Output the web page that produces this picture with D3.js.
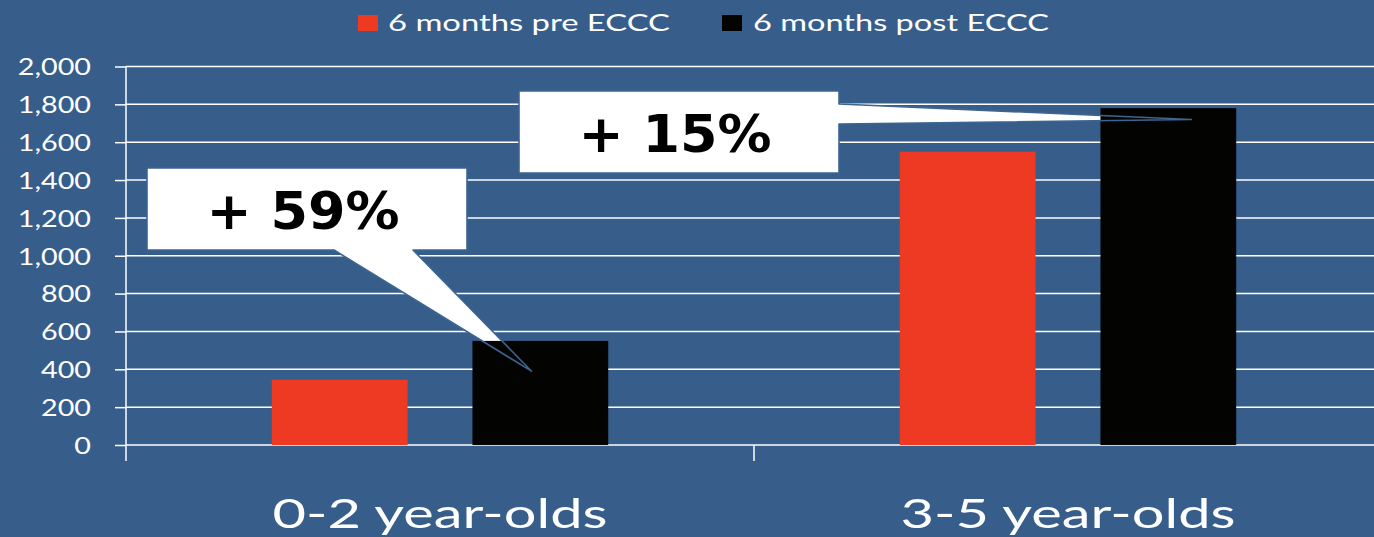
<!DOCTYPE html>
<html>
<head>
<meta charset="utf-8">
<script src="https://cdn.jsdelivr.net/npm/d3@7"></script>
<style>
  html, body { margin: 0; padding: 0; background: #375e8b; overflow: hidden; }
  svg { display: block; }
</style>
</head>
<body>
<svg id="chart" width="1374" height="537"></svg>
<script>
// ---- data ----
const categories = ["0-2 year-olds", "3-5 year-olds"];
const seriesNames = ["6 months pre ECCC", "6 months post ECCC"];
const preValues = [345, 1550];
const postValues = [550, 1780];
const yTickValues = [0, 200, 400, 600, 800, 1000, 1200, 1400, 1600, 1800, 2000];
const calloutLabels = ["+ 59%", "+ 15%"];
const calloutTipValues = [390, 1720];

// ---- layout / style ----
const W = 1374, H = 537;
const BG = "#375e8b";
const colors = ["#ee3a22", "#030402"];
const plot = { left: 126, right: 1382, top: 66.5, bottom: 445 };
const STRETCH = 1.25;

const svg = d3.select("#chart");
svg.append("rect").attr("width", W).attr("height", H).attr("fill", BG);

const x0 = d3.scaleBand().domain(categories).range([plot.left, plot.right]).padding(0);
const x1 = d3.scaleBand().domain(seriesNames).range([0, x0.bandwidth()])
  .paddingInner(0.3234).paddingOuter(0.7264);
const y = d3.scaleLinear().domain([0, 2000]).range([plot.bottom, plot.top]);

// gridlines + y axis
const yAxis = d3.axisLeft(y).tickValues(yTickValues).tickFormat(d3.format(",")).tickSize(11).tickPadding(0);
const gy = svg.append("g").attr("transform", `translate(${plot.left},0)`).call(yAxis);
gy.select(".domain").remove();
gy.selectAll(".tick line").attr("stroke", "#ffffff").attr("stroke-width", 1.5);
gy.selectAll(".tick text")
  .attr("fill", "#ffffff")
  .attr("font-family", "Lato, 'Open Sans', sans-serif")
  .attr("font-size", 23)
  .attr("x", -35 / STRETCH)
  .attr("dy", "0.36em")
  .attr("transform", `scale(${STRETCH},1)`);

svg.append("g").selectAll("line").data(yTickValues).join("line")
  .attr("x1", plot.left).attr("x2", W)
  .attr("y1", d => y(d)).attr("y2", d => y(d))
  .attr("stroke", "#ffffff").attr("stroke-width", 1.5);

// vertical axis line and category ticks
svg.append("line").attr("x1", plot.left).attr("x2", plot.left)
  .attr("y1", plot.top).attr("y2", plot.bottom + 16)
  .attr("stroke", "#ffffff").attr("stroke-width", 1.5);
svg.append("g").selectAll("line").data(categories.slice(1)).join("line")
  .attr("x1", d => x0(d)).attr("x2", d => x0(d))
  .attr("y1", plot.bottom).attr("y2", plot.bottom + 16)
  .attr("stroke", "#ffffff").attr("stroke-width", 1.5);

// callout geometry (tips anchored to post bars)
const tip1 = { x: x0(categories[0]) + x1(seriesNames[1]) + x1.bandwidth() * 0.435, y: y(calloutTipValues[0]) };
const tip2 = { x: x0(categories[1]) + x1(seriesNames[1]) + x1.bandwidth() * 0.67, y: y(calloutTipValues[1]) };
const box1 = { x: 147, y: 168, w: 320, h: 82 };
const box2 = { x: 519, y: 91, w: 320, h: 82 };
const path1 = `M${box1.x},${box1.y} H${box1.x + box1.w} V${box1.y + box1.h} H413 L${tip1.x},${tip1.y} L334,${box1.y + box1.h} H${box1.x} Z`;
const path2 = `M${box2.x},${box2.y} H${box2.x + box2.w} V104 L${tip2.x},${tip2.y} L${box2.x + box2.w},124 V${box2.y + box2.h} H${box2.x} Z`;
const paths = [path1, path2];

svg.append("g").selectAll("path").data(paths).join("path")
  .attr("d", d => d).attr("fill", "#ffffff");

// bars
const rows = categories.map((c, i) => ({ cat: c, vals: [preValues[i], postValues[i]] }));
const gBars = svg.append("g");
rows.forEach(r => {
  gBars.selectAll(null).data(r.vals).join("rect")
    .attr("x", (d, j) => x0(r.cat) + x1(seriesNames[j]))
    .attr("width", x1.bandwidth())
    .attr("y", d => y(d))
    .attr("height", d => y(0) - y(d))
    .attr("fill", (d, j) => colors[j]);
});

// callout outlines
svg.append("g").selectAll("path").data(paths).join("path")
  .attr("d", d => d).attr("fill", "none")
  .attr("stroke", "#3d6591").attr("stroke-width", 1.6).attr("stroke-linejoin", "round");

// callout texts
const boxes = [box1, box2];
svg.append("g").selectAll("text").data(calloutLabels).join("text")
  .attr("x", (d, i) => boxes[i].x + boxes[i].w / 2 - 4)
  .attr("y", (d, i) => boxes[i].y + 61)
  .attr("text-anchor", "middle")
  .attr("font-family", "'DejaVu Sans', Verdana, sans-serif")
  .attr("font-weight", "bold")
  .attr("font-size", 52)
  .attr("fill", "#000000")
  .attr("textLength", 193)
  .attr("lengthAdjust", "spacingAndGlyphs")
  .text(d => d);

// category labels
svg.append("g").selectAll("text").data(categories).join("text")
  .attr("x", d => x0(d) + x0.bandwidth() / 2)
  .attr("y", 528)
  .attr("text-anchor", "middle")
  .attr("font-family", "Lato, 'Open Sans', sans-serif")
  .attr("font-size", 40)
  .attr("fill", "#ffffff")
  .attr("textLength", 335)
  .attr("lengthAdjust", "spacingAndGlyphs")
  .text(d => d);

// legend
const legendItems = [
  { name: seriesNames[0], color: colors[0], sx: 358, tx: 388, tw: 282 },
  { name: seriesNames[1], color: colors[1], sx: 722, tx: 753, tw: 296 }
];
const gl = svg.append("g");
gl.selectAll("rect").data(legendItems).join("rect")
  .attr("x", d => d.sx).attr("y", 15).attr("width", 20).attr("height", 16)
  .attr("fill", d => d.color);
gl.selectAll("text").data(legendItems).join("text")
  .attr("x", d => d.tx).attr("y", 31)
  .attr("font-family", "Lato, 'Open Sans', sans-serif")
  .attr("font-size", 23)
  .attr("fill", "#ffffff")
  .attr("textLength", d => d.tw)
  .attr("lengthAdjust", "spacingAndGlyphs")
  .text(d => d.name);
</script>
</body>
</html>
